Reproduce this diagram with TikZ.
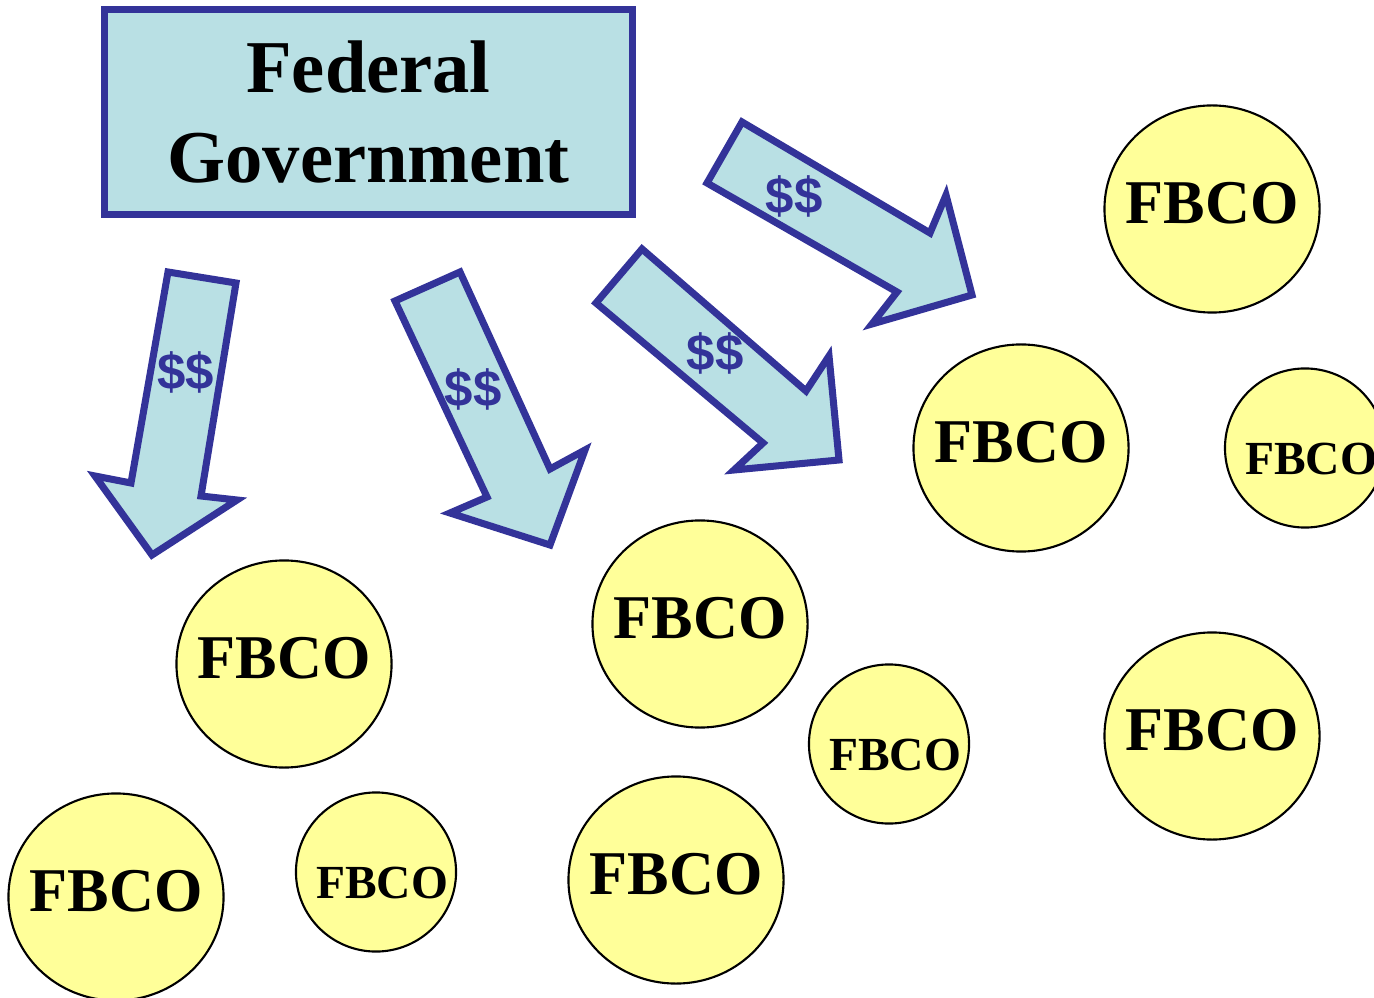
\documentclass[tikz,border=0pt]{standalone}
\usepackage{fontspec}
\setmainfont{Liberation Serif}
\newfontfamily\cashfont{Liberation Sans}
\usetikzlibrary{shapes.geometric}
\definecolor{govblue}{RGB}{51,51,153}
\definecolor{govcyan}{RGB}{185,224,228}
\definecolor{orgyellow}{RGB}{255,255,153}
\newcommand{\fbco}{\makebox[0pt]{FBCO}}
\newcommand{\smallfbco}{\makebox[0pt]{\hspace{0.12cm}FBCO}}
\tikzset{
  govbox/.style={draw=govblue, fill=govcyan, line width=2pt, minimum width=5.27cm, minimum height=2.04cm,
    align=center, font=\fontsize{21.2}{25.5}\selectfont\bfseries},
  cash/.style={draw=govblue, fill=govcyan, line width=2pt, line join=miter},
  dollars/.style={text=govblue, inner sep=0pt, font=\cashfont\fontsize{14.5}{16}\selectfont\bfseries},
  org/.style={ellipse, draw=black, fill=orgyellow, line width=0.6pt, inner sep=0pt},
  bigorg/.style={org, minimum width=2.15cm, minimum height=2.07cm, text depth=0.12cm,
    font=\fontsize{17.7}{20}\selectfont\bfseries},
  smallorg/.style={org, minimum width=1.6cm, minimum height=1.59cm, text height=0.52cm, text depth=0pt,
    font=\fontsize{13.5}{15}\selectfont\bfseries}
}

\begin{document}
\begin{tikzpicture}[x=0.01cm, y=-0.01cm]
    \useasboundingbox (0,0) rectangle (1374,998);
    \node [govbox] (fed) at (368.5,112) {Federal\\Government};

    % money flowing out
    \draw [cash] (168,272) -- (236,283) -- (201,496) -- (237,500) -- (152,555) -- (95,476) -- (131,483) -- cycle;
    \draw [cash] (395,301) -- (460,272) -- (550,469) -- (585,450) -- (550,545) -- (450,513) -- (487,497) -- cycle;
    \draw [cash] (642,249) -- (806,391) -- (829,356) -- (839,460) -- (734,470) -- (763,443) -- (596,303) -- cycle;
    \draw [cash] (742,122) -- (930,233) -- (946,195) -- (972,295) -- (872,324) -- (897,292) -- (707,183) -- cycle;
    \node [dollars] (d1) at (186,372) {\$\$};
    \node [dollars] (d2) at (473,389) {\$\$};
    \node [dollars] (d3) at (715,353) {\$\$};
    \node [dollars] (d4) at (794,196) {\$\$};

    % organizations
    \node [bigorg] (o1) at (1212,209) {\fbco};
    \node [bigorg] (o2) at (1021,448) {\fbco};
    \node [smallorg] (o3) at (1305,448) {\smallfbco};
    \node [bigorg] (o4) at (700,624) {\fbco};
    \node [bigorg] (o5) at (284,664) {\fbco};
    \node [smallorg] (o6) at (889,744) {\smallfbco};
    \node [bigorg] (o7) at (1212,736) {\fbco};
    \node [bigorg] (o8) at (116,897) {\fbco};
    \node [smallorg] (o9) at (376,872) {\smallfbco};
    \node [bigorg] (o10) at (676,880) {\fbco};
\end{tikzpicture}
\end{document}
